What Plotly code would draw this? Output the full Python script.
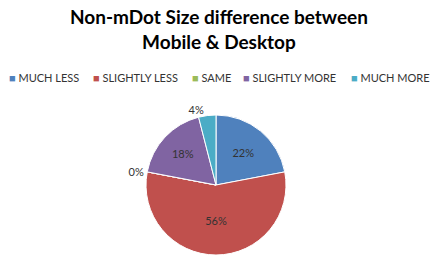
import plotly.graph_objects as go

categories = ["MUCH LESS", "SLIGHTLY LESS", "SAME", "SLIGHTLY MORE", "MUCH MORE"]
values = [22, 56, 0, 18, 4]
colors = ["#4F81BD", "#C0504D", "#9BBB59", "#8064A2", "#4BACC6"]
text_pos = ["inside", "inside", "outside", "inside", "outside"]

W, H = 438, 259
cx, cy, r = 216, 185, 70

fig = go.Figure(go.Pie(
    labels=categories, values=values, sort=False, direction="clockwise", rotation=0,
    marker=dict(colors=colors, line=dict(color="white", width=1)),
    texttemplate=[f"{v}%" for v in values], textinfo="text",
    textposition=text_pos, insidetextorientation="horizontal",
    textfont=dict(family="Lato, sans-serif", size=11, color="#333333"),
    outsidetextfont=dict(family="Lato, sans-serif", size=11, color="#333333"),
    showlegend=False, hoverinfo="skip",
    domain=dict(x=[(cx - r) / W, (cx + r) / W], y=[(H - cy - r) / H, (H - cy + r) / H]),
))

annotations = [dict(
    text="<b>Non-mDot Size difference between<br>Mobile &amp; Desktop</b>",
    x=0.5, y=1 - 3 / H, xref="paper", yref="paper", xanchor="center", yanchor="top",
    showarrow=False, font=dict(family="Lato, sans-serif", size=19, color="#000000"),
)]
leg_x = [7, 91, 190, 241, 349]
for name, col, lx in zip(categories, colors, leg_x):
    annotations.append(dict(
        text=f"<span style='color:{col}'>■</span> {name}",
        x=lx / W, y=1 - 77 / H, xref="paper", yref="paper", xanchor="left", yanchor="middle",
        showarrow=False, font=dict(family="Lato, sans-serif", size=11, color="#333333"),
    ))

fig.update_layout(
    width=W, height=H, margin=dict(l=0, r=0, t=0, b=0),
    paper_bgcolor="white", plot_bgcolor="white", annotations=annotations,
)
fig.write_html("out.html")
